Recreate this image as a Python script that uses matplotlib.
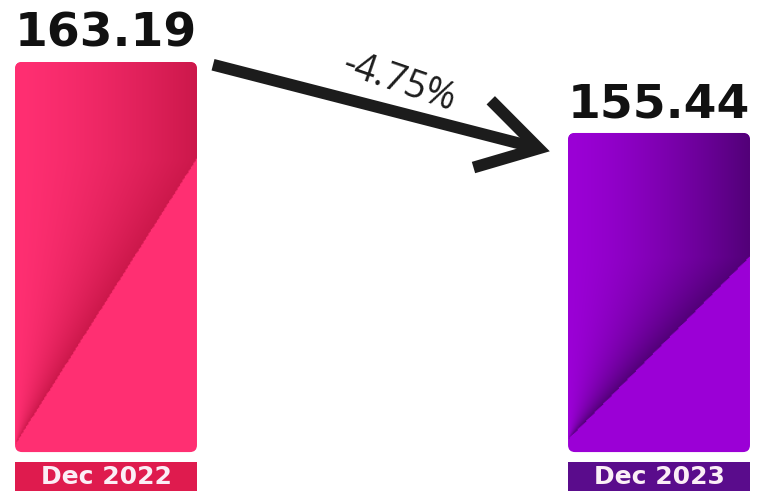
import numpy as np
import matplotlib
matplotlib.use("Agg")
import matplotlib.pyplot as plt
from matplotlib.patches import FancyBboxPatch, Rectangle
import matplotlib.transforms as mtransforms
from matplotlib.colors import to_rgb

# ---- data ----
categories = ["Dec 2022", "Dec 2023"]
values = [163.19, 155.44]
value_labels = ["163.19", "155.44"]
change_label = "-4.75%"

# ---- styles ----
base_colors = ["#ff2f72", "#9b00d6"]
dark_colors = ["#cc184b", "#520078"]
label_box_colors = ["#df1b4e", "#5a0c8c"]
diag_bounds = [(0.02, 0.75), (0.04, 0.61)]

W_PX, H_PX = 771, 491
fig = plt.figure(figsize=(W_PX / 100, H_PX / 100), dpi=100)
ax = fig.add_axes([0, 0, 1, 1])
ax.set_axis_off()

baseline = 120.6
xlim = (-0.1917, 1.2025)
ylim = (116.35, 169.96)
width = 0.329
x = np.arange(len(categories))

px_per_x = W_PX / (xlim[1] - xlim[0])
px_per_y = H_PX / (ylim[1] - ylim[0])

bars = ax.bar(x, np.array(values) - baseline, bottom=baseline, width=width,
              color=base_colors, zorder=1)

for i, b in enumerate(bars):
    bx, by, bw, bh = b.get_x(), b.get_y(), b.get_width(), b.get_height()
    b.set_visible(False)
    patch = FancyBboxPatch((bx, by), bw, bh,
                           boxstyle=f"round,pad=0,rounding_size={7 / px_per_x}",
                           mutation_aspect=px_per_x / px_per_y,
                           facecolor=base_colors[i], edgecolor="none", zorder=2)
    ax.add_patch(patch)
    # gradient image
    nh, nw = 300, 150
    u = np.linspace(0, 1, nw)[None, :]
    v = np.linspace(0, 1, nh)[:, None]
    v0, v1 = diag_bounds[i]
    vdiag = v0 + (v1 - v0) * u
    upper = v > vdiag
    ud = np.clip((v - v0) / (v1 - v0), 1e-3, None)
    ud = np.minimum(ud, 1.0)
    t = np.clip(u / ud, 0, 1) ** 1.4
    c0 = np.array(to_rgb(base_colors[i]))
    c1 = np.array(to_rgb(dark_colors[i]))
    rgb = c0[None, None, :] * (1 - t[..., None]) + c1[None, None, :] * t[..., None]
    img = np.zeros((nh, nw, 4))
    img[..., :3] = rgb
    img[..., 3] = upper.astype(float)
    im = ax.imshow(img, extent=[bx, bx + bw, by, by + bh], origin="lower",
                   aspect="auto", interpolation="bilinear", zorder=3)
    im.set_clip_path(patch)

    # value label
    ax.annotate(value_labels[i], xy=(bx + bw / 2, by + bh), xytext=(0, 11),
                textcoords="offset points", ha="center", va="baseline",
                fontsize=34, fontweight="bold", color="#111111",
                family="DejaVu Sans", zorder=5)

    # category label box
    trans = mtransforms.blended_transform_factory(ax.transData, ax.transAxes)
    ax.add_patch(Rectangle((bx, 0), bw, 29 / H_PX, transform=trans,
                           facecolor=label_box_colors[i], edgecolor="none",
                           zorder=2))
    ax.text(bx + bw / 2, 14 / H_PX, categories[i], transform=trans,
            ha="center", va="center", fontsize=18, fontweight="bold",
            color="#fbeef6", family="DejaVu Sans", zorder=5)

# arrow
start = (x[0] + width / 2 + 0.029, values[0] - 0.3)
end = (x[1] - width / 2 - 0.033, values[1] - 2.0)
ax.annotate("", xy=end, xytext=start,
            arrowprops=dict(arrowstyle="->,head_length=0.42,head_width=0.25",
                            lw=8.5, color="#1c1c1c", mutation_scale=100,
                            shrinkA=0, shrinkB=0, joinstyle="miter",
                            capstyle="butt"),
            zorder=4)

mid = ((start[0] + end[0]) / 2, (start[1] + end[1]) / 2)
ax.annotate(change_label, xy=mid, xytext=(13, 18), textcoords="offset points",
            ha="center", va="center", rotation=-19, fontsize=27,
            family="Open Sans", color="#1c1c1c", zorder=5)

ax.set_xlim(*xlim)
ax.set_ylim(*ylim)

fig.savefig("out.png", dpi=100, facecolor="white")
